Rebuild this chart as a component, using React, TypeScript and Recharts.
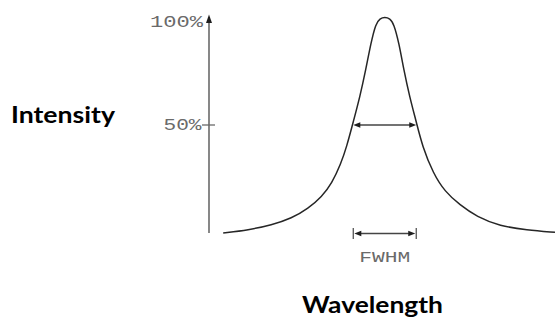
import { LineChart, Line, XAxis, YAxis, ReferenceLine, ReferenceDot } from "recharts";

// relative wavelength (0..100 across the plot) and intensity (% of peak)
const wavelength = [
  4.1, 11.4, 18.1, 23.9, 28.7, 32.6, 35.5, 38.1, 39.8, 41.7, 43.6, 45.3, 46.8, 48.2, 49.4,
  50.8, 52.3, 53.4, 54.9, 56.3, 58.0, 59.9, 61.7, 64.8, 68.2, 72.5, 77.4, 84.1, 91.8, 100,
];
const intensity = [
  0, 1.4, 3.7, 6.8, 11.4, 16.8, 23.0, 32.0, 40.0, 51.5, 63.0, 75.5, 88.0, 97.0, 99.3,
  100, 99.3, 97.0, 88.0, 75.5, 63.0, 51.5, 40.0, 27.6, 19.1, 13.0, 7.5, 3.2, 1.4, 0.3,
];
const yTicks = [50, 100];
const yTickLabels: Record<number, string> = { 50: "50%", 100: "100%" };
const fwhmLeft = 41.7;
const fwhmRight = 59.9;
const halfMax = 50;

const data = wavelength.map((w, i) => ({ wavelength: w, intensity: intensity[i] }));

const AXIS_X = 209;
const MONO = "'Liberation Mono', monospace";
const GRAY = "#6a6a6a";

const YTick = ({ y, payload }: any) => {
  const v = payload.value;
  if (v === 100) {
    return (
      <text x={AXIS_X - 6} y={y + 10} textAnchor="end" fontFamily={MONO} fontSize={16}
        fill={GRAY} textLength={53} lengthAdjust="spacingAndGlyphs">
        {yTickLabels[v]}
      </text>
    );
  }
  return (
    <g>
      <line x1={AXIS_X - 7} x2={AXIS_X + 6} y1={y} y2={y} stroke={GRAY} strokeWidth={1.3} />
      <text x={AXIS_X - 7.5} y={y + 5} textAnchor="end" fontFamily={MONO} fontSize={16}
        fill={GRAY} textLength={38} lengthAdjust="spacingAndGlyphs">
        {yTickLabels[v]}
      </text>
    </g>
  );
};

const AxisArrow = ({ cx, cy }: any) => (
  <path d={`M${cx},${cy - 2.5} L${cx + 3},${cy + 6} L${cx - 3},${cy + 6} Z`} fill="#1e1e1e" />
);

const FwhmArrow = ({ x1, y1, x2 }: any) => (
  <g>
    <line x1={x1 + 5} x2={x2 - 5} y1={y1} y2={y1} stroke="#444" strokeWidth={1.4} />
    <path d={`M${x1},${y1} L${x1 + 7},${y1 - 2.8} L${x1 + 7},${y1 + 2.8} Z`} fill="#1e1e1e" />
    <path d={`M${x2},${y1} L${x2 - 7},${y1 - 2.8} L${x2 - 7},${y1 + 2.8} Z`} fill="#1e1e1e" />
  </g>
);

const FwhmBracket = ({ x1, y1, x2 }: any) => {
  const y = y1 + 0.5;
  return (
    <g>
      <line x1={x1} x2={x1} y1={y - 5.5} y2={y + 5.5} stroke="#555" strokeWidth={1.3} />
      <line x1={x2} x2={x2} y1={y - 5.5} y2={y + 5.5} stroke="#555" strokeWidth={1.3} />
      <line x1={x1 + 5} x2={x2 - 5} y1={y} y2={y} stroke="#444" strokeWidth={1.4} />
      <path d={`M${x1 + 1},${y} L${x1 + 8},${y - 2.8} L${x1 + 8},${y + 2.8} Z`} fill="#1e1e1e" />
      <path d={`M${x2 - 1},${y} L${x2 - 8},${y - 2.8} L${x2 - 8},${y + 2.8} Z`} fill="#1e1e1e" />
      <text x={(x1 + x2) / 2} y={y + 28.5} textAnchor="middle" fontFamily={MONO} fontSize={15}
        fill={GRAY} textLength={51} lengthAdjust="spacingAndGlyphs">
        FWHM
      </text>
    </g>
  );
};

export default function App() {
  return (
    <div style={{ position: "absolute", left: 0, top: 0, width: 555, height: 322, background: "#fff" }}>
      <LineChart width={555} height={322} data={data} margin={{ top: 17, right: 0, bottom: 89, left: 0 }}>
        <XAxis type="number" dataKey="wavelength" domain={[0, 100]} hide />
        <YAxis
          type="number"
          domain={[0, 100]}
          ticks={yTicks}
          interval={0}
          width={AXIS_X}
          axisLine={{ stroke: GRAY, strokeWidth: 1.6 }}
          tickLine={false}
          tick={<YTick />}
        />
        <ReferenceDot x={0} y={100} r={0} shape={AxisArrow} ifOverflow="visible" />
        <ReferenceLine
          segment={[{ x: fwhmLeft, y: halfMax }, { x: fwhmRight, y: halfMax }]}
          shape={FwhmArrow}
          ifOverflow="visible"
        />
        <ReferenceLine
          segment={[{ x: fwhmLeft, y: 0 }, { x: fwhmRight, y: 0 }]}
          shape={FwhmBracket}
          ifOverflow="visible"
        />
        <Line
          dataKey="intensity"
          type="basis"
          stroke="#262626"
          strokeWidth={1.5}
          dot={false}
          isAnimationActive={false}
        />
      </LineChart>
      <svg width={555} height={322} style={{ position: "absolute", left: 0, top: 0, pointerEvents: "none" }}>
        <text x={11} y={123} fontFamily="Lato, 'Open Sans', sans-serif" fontWeight={700} fontSize={23}
          fill="#000" textLength={104} lengthAdjust="spacingAndGlyphs">
          Intensity
        </text>
        <text x={302} y={313} fontFamily="Lato, 'Open Sans', sans-serif" fontWeight={700} fontSize={23}
          fill="#000" textLength={141} lengthAdjust="spacingAndGlyphs">
          Wavelength
        </text>
      </svg>
    </div>
  );
}
